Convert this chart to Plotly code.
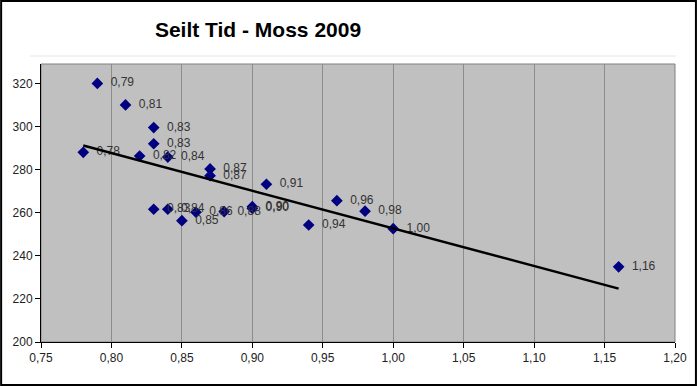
import numpy as np
import plotly.graph_objects as go

x_vals = [0.79, 0.81, 0.83, 0.83, 0.78, 0.82, 0.84, 0.87, 0.87, 0.91,
          0.83, 0.84, 0.85, 0.86, 0.88, 0.90, 0.90, 0.96, 0.98, 0.94, 1.00, 1.16]
y_vals = [320, 310, 299.5, 292, 288, 286.3, 285.8, 280.3, 277.2, 273.2,
          261.6, 261.6, 256.3, 260.2, 260.5, 262.8, 262, 265.6, 260.7, 254.3, 252.6, 234.9]
x_ticks = [0.75, 0.80, 0.85, 0.90, 0.95, 1.00, 1.05, 1.10, 1.15, 1.20]
y_ticks = [200, 220, 240, 260, 280, 300, 320]
title_text = "Seilt Tid - Moss 2009"

labels = ["\u00a0\u00a0" + f"{v:.2f}".replace(".", ",") for v in x_vals]

slope, intercept = np.polyfit(x_vals, y_vals, 1)
tx = [min(x_vals), max(x_vals)]
ty = [slope * v + intercept for v in tx]

W, H = 699, 386
ml, mr, mt, mb = 41, 22, 64, 44

fig = go.Figure()
fig.add_trace(go.Scatter(
    x=x_vals, y=y_vals, mode="markers+text", text=labels,
    textposition="middle right",
    textfont=dict(family="Liberation Sans, Arial", size=12, color="#333333"),
    marker=dict(symbol="diamond", size=9, color="#000080"),
    cliponaxis=False, showlegend=False, hoverinfo="skip"))
fig.add_trace(go.Scatter(
    x=tx, y=ty, mode="lines", line=dict(color="black", width=2.5),
    showlegend=False, hoverinfo="skip"))

pw = W - ml - mr
ph = H - mt - mb
fig.add_shape(type="rect", xref="paper", yref="paper",
              x0=-(ml - 1) / pw, x1=1 + (mr - 1) / pw,
              y0=-(mb - 1) / ph, y1=1 + (mt - 1) / ph,
              line=dict(color="black", width=2), layer="above")
fig.add_shape(type="line", xref="paper", yref="paper",
              x0=-11 / pw, x1=1 + 1 / pw, y0=1 + 8 / ph, y1=1 + 8 / ph,
              line=dict(color="#E6E6E6", width=1))

fig.update_layout(
    width=W, height=H,
    margin=dict(l=ml, r=mr, t=mt, b=mb),
    paper_bgcolor="white", plot_bgcolor="#C0C0C0",
    separators=",.",
    title=dict(text="<b>" + title_text + "</b>", x=258 / W, xanchor="center",
               y=1 - 30 / H, yanchor="middle",
               font=dict(family="Liberation Sans, Arial", size=21, color="black")),
    xaxis=dict(range=[0.75, 1.20], tickvals=x_ticks, tickformat=".2f",
               showgrid=True, gridcolor="#8C8C8C", gridwidth=1,
               showline=True, linecolor="black", linewidth=1, mirror=False,
               ticks="outside", ticklen=5, tickcolor="black",
               tickfont=dict(family="Liberation Sans, Arial", size=12, color="#222222"),
               zeroline=False, fixedrange=True),
    yaxis=dict(range=[200, 329], tickvals=y_ticks,
               showgrid=False,
               showline=True, linecolor="black", linewidth=1,
               ticks="outside", ticklen=5, tickcolor="black",
               tickfont=dict(family="Liberation Sans, Arial", size=12, color="#222222"),
               zeroline=False, fixedrange=True),
)
fig.add_shape(type="rect", xref="paper", yref="paper", x0=0, x1=1, y0=0, y1=1,
              line=dict(color="#808080", width=1), layer="below")

fig.write_html("out.html", config={"displayModeBar": False, "staticPlot": True},
               post_script="document.body.style.margin='0';document.body.style.overflow='hidden';")
